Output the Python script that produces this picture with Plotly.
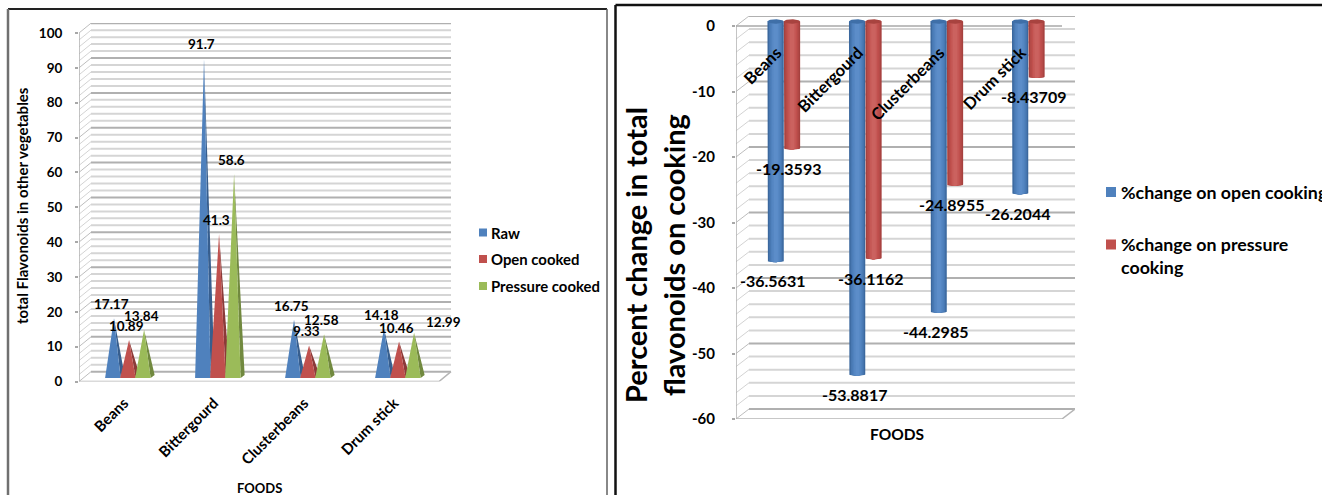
import numpy as np
import plotly.graph_objects as go

# ---- Data ----
foods = ["Beans", "Bittergourd", "Clusterbeans", "Drum stick"]

raw = [17.17, 91.7, 16.75, 14.18]
open_cooked = [10.89, 41.3, 9.33, 10.46]
pressure_cooked = [13.84, 58.6, 12.58, 12.99]

change_open = [-36.5631, -53.8817, -44.2985, -26.2044]
change_pressure = [-19.3593, -36.1162, -24.8955, -8.43709]

flavonoid_ticks = list(range(0, 101, 10))
change_ticks = list(range(-60, 1, 10))

# ---- Page and pseudo-3D geometry (pixels) ----
W, H = 1322, 495
FONT = "Lato"
BLUE, RED, GREEN = "#4F81BD", "#C0504D", "#9BBB59"
BLUE_D, RED_D, GREEN_D = "#375E8E", "#8C3A38", "#71893F"

L_X0, L_X1, L_Y0, L_Y1 = 79, 452, 381.5, 23
L_PX_CAT, L_PX_UNIT = 90.0, 3.485
L_DX, L_DY = 12 / L_PX_CAT, 9.8 / L_PX_UNIT        # wall depth in data units
L_BASE = 3.5 / L_PX_UNIT                           # cones sit mid-way on the floor

R_X0, R_X1, R_Y0, R_Y1 = 736, 1075, 419, 16
R_PX_CAT, R_PX_UNIT = 81.5, 6.55
R_DX, R_DY = 13 / R_PX_CAT, 10 / R_PX_UNIT
R_BASE = 4.5 / R_PX_UNIT

fig = go.Figure()


def add_line(xs, ys, color, width, xa, ya):
    fig.add_trace(go.Scatter(x=xs, y=ys, mode="lines", line=dict(color=color, width=width),
                             xaxis=xa, yaxis=ya, hoverinfo="skip", showlegend=False))


def add_poly(xs, ys, color, xa, ya):
    fig.add_trace(go.Scatter(x=xs, y=ys, mode="lines", fill="toself", fillcolor=color,
                             line=dict(width=0, color=color), xaxis=xa, yaxis=ya,
                             hoverinfo="skip", showlegend=False))


def draw_walls(lo, hi, n_cat, dx, dy, xa, ya, top_front):
    """Back-wall gridlines every 2 units, darker every 10, plus the side wall and floor."""
    for major in (False, True):
        gx, gy, sx, sy = [], [], [], []
        for v in range(lo, hi + 1, 2):
            if (v % 10 == 0) != major:
                continue
            gx += [dx, n_cat + dx, None]
            gy += [v + dy, v + dy, None]
            sx += [0, dx, None]
            sy += [v, v + dy, None]
        add_line(gx, gy, "#b0b0b0" if major else "#d5d5d5", 2, xa, ya)
        add_line(sx, sy, "#bdbdbd" if major else "#d3d3d3", 1, xa, ya)
    add_line([0, 0], [lo, hi], "#b0b0b0", 1.5, xa, ya)
    add_line([0, n_cat, n_cat + dx], [lo, lo, lo + dy], "#b5b5b5", 1.5, xa, ya)
    if top_front:
        add_line([0, n_cat], [hi, hi], "#a9a9a9", 1.5, xa, ya)


# ---- Left chart: pyramids ----
draw_walls(0, 100, 4, L_DX, L_DY, "x", "y", False)

cone_series = [(raw, BLUE, BLUE_D), (open_cooked, RED, RED_D), (pressure_cooked, GREEN, GREEN_D)]
CONE_START, CONE_STEP, CONE_W = 0.29, 0.167, 0.172
CONE_DEPTH_X, CONE_DEPTH_Y = 4 / L_PX_CAT, 3 / L_PX_UNIT
APEX = CONE_W / 2 + 0.013

cone_apex = []
for j, (vals, col, col_d) in enumerate(cone_series):
    fx, fy, sx, sy = [], [], [], []
    for i, v in enumerate(vals):
        a = i + CONE_START + j * CONE_STEP
        b = a + CONE_W
        p = a + APEX
        top = L_BASE + v
        sx += [b, b + CONE_DEPTH_X, p, None]
        sy += [L_BASE, L_BASE + CONE_DEPTH_Y, top, None]
        fx += [a, b, p, None]
        fy += [L_BASE, L_BASE, top, None]
        cone_apex.append((p, top, v))
    add_poly(sx, sy, col_d, "x", "y")
    add_poly(fx, fy, col, "x", "y")

# ---- Right chart: cylinders ----
draw_walls(-60, 0, 4, R_DX, R_DY, "x2", "y2", True)

CYL_W = 0.2
CYL_OFFSETS = [0.486, 0.687]
CAP = 2.2 / R_PX_UNIT
theta = np.linspace(0, 2 * np.pi, 40)
arc = np.linspace(0, np.pi, 20)
shades = {
    BLUE: ["#3B689E", "#4878B2", "#4F81BD", "#5687C3", "#5C8DC9"],
    RED: ["#A6413F", "#B54B48", "#C0504D", "#C65A57", "#CB625F"],
}
cyl_series = [(change_open, BLUE, "#3F6FA8"), (change_pressure, RED, "#A8433F")]

for (vals, col, cap_col), off in zip(cyl_series, CYL_OFFSETS):
    xs = [i + off for i in range(len(vals))]
    # Nested bodies, narrowing and lightening, give the round shading
    for k, shade in enumerate(shades[col]):
        half = CYL_W / 2 * (1 - k * 0.18)
        bx, by = [], []
        for x, v in zip(xs, vals):
            bx += [x - half] + list(x - half * np.cos(arc)) + [x + half, None]
            by += [R_BASE] + list(R_BASE + v - CAP * 0.6 * np.sin(arc)) + [R_BASE, None]
        add_poly(bx, by, shade, "x2", "y2")
    tx, ty = [], []
    for x in xs:
        tx += list(x + CYL_W / 2 * np.cos(theta)) + [None]
        ty += list(R_BASE + CAP * np.sin(theta)) + [None]
    add_poly(tx, ty, cap_col, "x2", "y2")

# ---- Value labels ----
annotations = []
for p, top, v in cone_apex:
    moved = v == 12.99
    annotations.append(dict(x=p, y=top, xref="x", yref="y", text=f"{v:g}", showarrow=False,
                            xshift=29.5 if moved else -2.5, yshift=11 if moved else 14,
                            font=dict(family=FONT, size=13.5, color="black", weight=700)))
for (vals, _, _), off in zip(cyl_series, CYL_OFFSETS):
    for i, v in enumerate(vals):
        annotations.append(dict(x=i + off, y=R_BASE + v, xref="x2", yref="y2", text=f"{v:g}",
                                showarrow=False, xshift=-3, yshift=-20,
                                font=dict(family=FONT, size=16, color="black", weight=700)))


def page_text(px, py, text, size, xanchor="center", angle=0, align="center"):
    annotations.append(dict(x=px / W, y=1 - py / H, xref="paper", yref="paper", text=text,
                            showarrow=False, xanchor=xanchor, yanchor="middle", textangle=angle,
                            align=align, font=dict(family=FONT, size=size, color="black", weight=700)))


page_text(259, 488, "FOODS", 13)
page_text(897, 434, "FOODS", 15.5)
page_text(22, 206, "total Flavonoids in other vegetables", 15, angle=-90)
page_text(654, 255, "Percent change in total<br>flavonoids on cooking", 29, angle=-90)

# ---- Keys ----
shapes = []


def key_item(px, py, size, color, text, font_size, text_x):
    shapes.append(dict(type="rect", xref="paper", yref="paper", x0=px / W, x1=(px + size) / W,
                       y0=1 - (py + size / 2) / H, y1=1 - (py - size / 2) / H,
                       fillcolor=color, line=dict(width=0)))
    page_text(text_x, py, text, font_size, xanchor="left", align="left")


key_item(479, 232.5, 8, BLUE, "Raw", 14.9, 489)
key_item(479, 259, 8, RED, "Open cooked", 14.9, 489)
key_item(479, 286, 8, GREEN, "Pressure cooked", 14.9, 489)
key_item(1106, 192, 10, BLUE, "%change on open cooking", 17.8, 1119)
key_item(1106, 244.5, 10, RED, "%change on pressure", 17.8, 1119)
page_text(1119, 267, "cooking", 17.8, xanchor="left", align="left")

# ---- Panel frames ----
for x0, y0, x1, y1, color, width in [
    (8, 9, 607, 9, "#222222", 2),
    (8, 9, 8, 495, "#707070", 2.5),
    (607, 9, 607, 495, "#606060", 1.5),
    (615.5, 5, 1322, 5, "#111111", 2.5),
    (615.5, 5, 615.5, 495, "#111111", 2.5),
]:
    shapes.append(dict(type="line", xref="paper", yref="paper", x0=x0 / W, x1=x1 / W,
                       y0=1 - y0 / H, y1=1 - y1 / H, line=dict(color=color, width=width)))


def x_axis(x0, x1, px_cat, size, standoff, **extra):
    return dict(domain=[x0 / W, x1 / W], range=[0, (x1 - x0) / px_cat], automargin=False,
                tickmode="array", tickvals=[i + 0.5 for i in range(4)], ticktext=foods,
                tickangle=-45, ticks="", showgrid=False, zeroline=False, showline=False,
                ticklabelstandoff=standoff,
                tickfont=dict(family=FONT, size=size, color="black", weight=700), **extra)


def y_axis(y0, y1, lo, hi, ticks, size, standoff, anchor):
    return dict(domain=[1 - y0 / H, 1 - y1 / H], range=[lo, hi], tickmode="array", tickvals=ticks,
                ticktext=[str(t) for t in ticks], ticks="outside", ticklen=3, tickwidth=1.5,
                tickcolor="#a8a8a8", showgrid=False, zeroline=False, showline=False,
                ticklabelstandoff=standoff, anchor=anchor, automargin=False,
                tickfont=dict(family=FONT, size=size, color="black", weight=700))


fig.update_layout(
    width=W, height=H, margin=dict(l=0, r=0, t=0, b=0, pad=0), autosize=False,
    paper_bgcolor="white", plot_bgcolor="rgba(0,0,0,0)", showlegend=False,
    xaxis=x_axis(L_X0, L_X1, L_PX_CAT, 15, 9, anchor="y"),
    yaxis=y_axis(L_Y0, L_Y1, 0, (L_Y0 - L_Y1) / L_PX_UNIT, flavonoid_ticks, 13.5, 10, "x"),
    xaxis2=x_axis(R_X0, R_X1, R_PX_CAT, 16.5, 13, anchor="free", position=1 - 26 / H),
    yaxis2=y_axis(R_Y0, R_Y1, -60, (26 - R_Y1) / R_PX_UNIT, change_ticks, 15, 14, "x2"),
    annotations=annotations, shapes=shapes,
)

fig.write_html("out.html", config=dict(displayModeBar=False))
